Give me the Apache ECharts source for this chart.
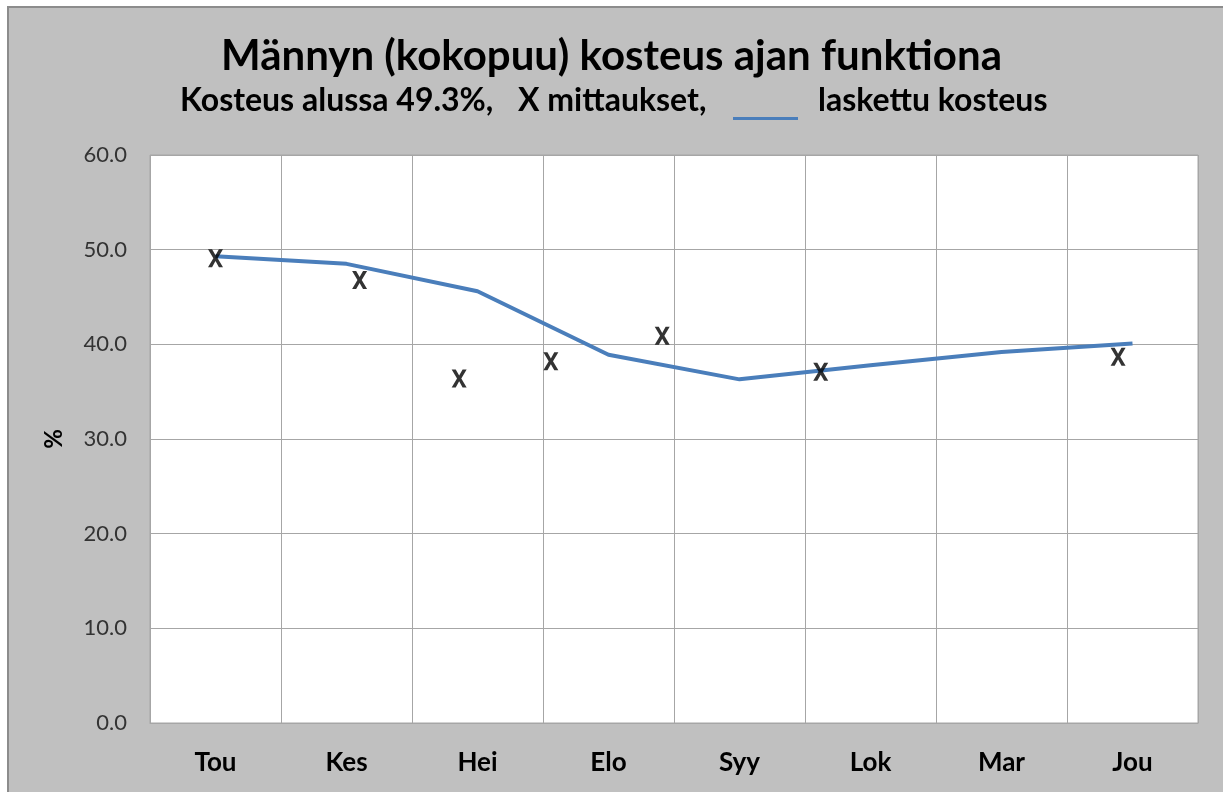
<!DOCTYPE html>
<html>
<head>
<meta charset="utf-8">
<script src="https://cdn.jsdelivr.net/npm/echarts@6/dist/echarts.min.js"></script>
<style>
html,body{margin:0;padding:0;background:#fff;width:1223px;height:792px;overflow:hidden;}
#frame{position:absolute;left:7px;top:6px;width:1216px;height:786px;background:#c0c0c0;border-left:2px solid #8c8c8c;border-top:2px solid #8c8c8c;box-sizing:border-box;}
#main{position:absolute;left:0;top:0;width:1223px;height:792px;}
</style>
</head>
<body>
<div id="frame"></div>
<div id="main"></div>
<script>
const categories = ['Tou', 'Kes', 'Hei', 'Elo', 'Syy', 'Lok', 'Mar', 'Jou'];
const calculated = [49.3, 48.5, 45.6, 38.9, 36.3, 37.8, 39.2, 40.1];
// measurement positions in category units (category i centre = i + 0.5)
const measuredPos = [0.50, 1.60, 2.36, 3.06, 3.91, 5.12, 7.39];
const measuredVal = [49.1, 46.8, 36.4, 38.2, 40.9, 37.1, 38.7];
const yTicks = [0, 10, 20, 30, 40, 50, 60];
const subtitleParts = ['Kosteus alussa 49.3%,', 'X mittaukset,', 'laskettu kosteus'];

const FONT = 'Lato';
const subFont = 'bold 32px ' + FONT;
const X_PATH = 'path://M0,0 L3.8,0 L7,5.4 L10.2,0 L14,0 L9,8 L14,16 L10.2,16 L7,10.6 L3.8,16 L0,16 L5,8 Z';
const chart = echarts.init(document.getElementById('main'), null, {renderer: 'canvas'});
chart.setOption({
  backgroundColor: 'transparent',
  animation: false,
  title: {
    left: 'center',
    top: 30,
    text: 'Männyn (kokopuu) kosteus ajan funktiona',
    textStyle: {fontFamily: FONT, fontWeight: 'bold', fontSize: 42, color: '#000'}
  },
  graphic: [
    {type: 'text', left: 180, top: 85, style: {text: subtitleParts[0], font: subFont, fill: '#000'}},
    {type: 'text', left: 518, top: 85, style: {text: subtitleParts[1], font: subFont, fill: '#000'}},
    {type: 'rect', shape: {x: 733, y: 117, width: 65, height: 3}, style: {fill: '#4a7ebb'}},
    {type: 'text', left: 818, top: 85, style: {text: subtitleParts[2], font: subFont, fill: '#000'}}
  ],
  grid: {left: 150, right: 25, top: 155, bottom: 69, show: true, borderColor: '#a6a6a6', borderWidth: 1, backgroundColor: '#fff'},
  xAxis: [{
    type: 'category',
    data: categories,
    boundaryGap: true,
    axisLine: {show: true, lineStyle: {color: '#a6a6a6'}},
    axisTick: {show: false},
    splitLine: {show: true, lineStyle: {color: '#a6a6a6', width: 1}},
    axisLabel: {fontFamily: FONT, fontWeight: 'bold', fontSize: 26, color: '#000', margin: 27}
  }, {
    type: 'value', min: 0, max: 8, show: false
  }],
  yAxis: {
    type: 'value', min: 0, max: 60, interval: 10,
    name: '%', nameLocation: 'middle', nameGap: 84,
    nameTextStyle: {fontFamily: FONT, fontWeight: 'bold', fontSize: 24, color: '#000'},
    axisLine: {show: false}, axisTick: {show: false},
    splitLine: {show: true, lineStyle: {color: '#a6a6a6', width: 1}},
    axisLabel: {fontFamily: FONT, fontSize: 22, color: '#333', margin: 23,
      formatter: v => yTicks.includes(v) ? v.toFixed(1) : ''}
  },
  series: [{
    type: 'line',
    xAxisIndex: 0,
    data: calculated,
    symbol: 'none',
    lineStyle: {color: '#4a7ebb', width: 4},
    z: 3
  }, {
    type: 'scatter',
    xAxisIndex: 1,
    data: measuredPos.map((p, i) => [p, measuredVal[i]]),
    symbol: X_PATH,
    symbolSize: [15, 18],
    itemStyle: {color: '#000'},
    z: 4
  }]
});
</script>
</body>
</html>
